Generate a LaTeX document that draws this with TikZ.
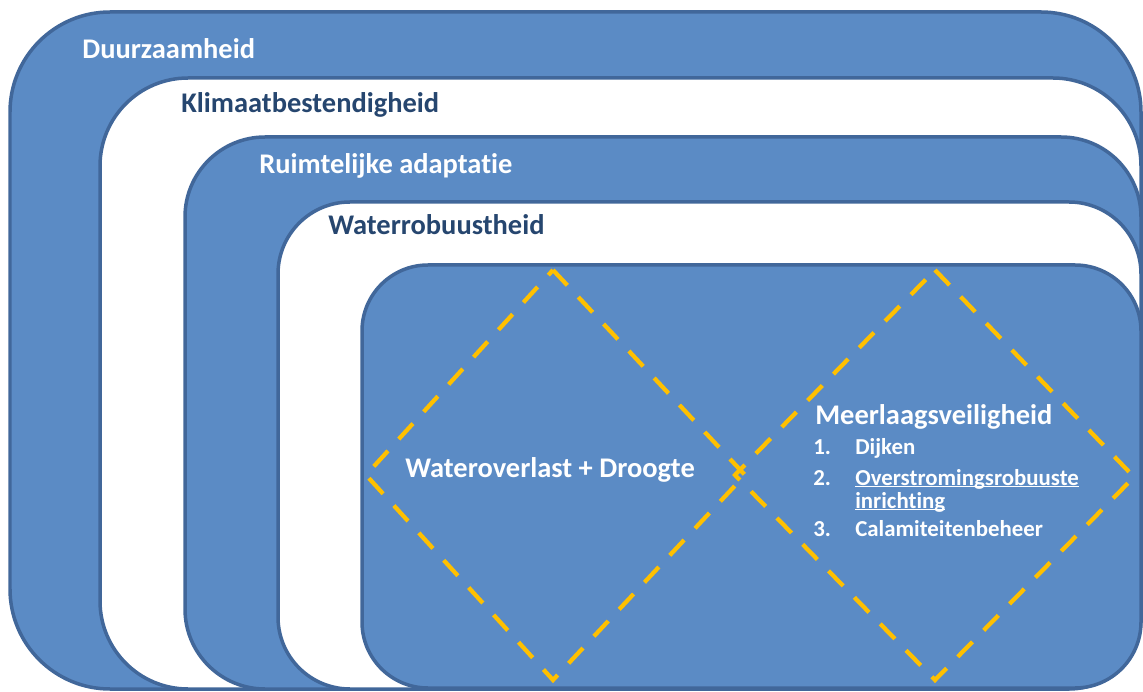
\documentclass[tikz,border=0pt]{standalone}
\usepackage{fontspec}
\setmainfont{Carlito}[Ligatures=NoCommon]
\usepackage{xcolor}
\definecolor{layerblue}{HTML}{5B8BC5}
\definecolor{layeredge}{HTML}{41679A}
\definecolor{labelnavy}{HTML}{26466F}
\definecolor{dashgold}{HTML}{FFC000}
\newcommand\linkline[1]{\setbox0\hbox{#1}\rlap{\rule[-0.05cm]{\wd0}{0.03cm}}\box0}

\begin{document}
\begin{tikzpicture}[x=0.02cm,y=-0.02cm,
    layer/.style={draw=layeredge,line width=0.07cm},
    bluelayer/.style={layer,fill=layerblue},
    whitelayer/.style={layer,fill=white},
    zone/.style={draw=dashgold,line width=0.085cm,dash pattern=on 0.42cm off 0.32cm},
    tag/.style={anchor=base west,inner sep=0pt,font=\fontsize{16.2}{19}\selectfont\bfseries},
    item/.style={anchor=base west,inner sep=0pt,text=white,font=\fontsize{13}{15}\selectfont\bfseries}]
    \useasboundingbox (0,0) rectangle (1143,692);
    % nested layers, outside in
    \draw[bluelayer,rounded corners=2cm] (10,12) rectangle (1141,689);
    \draw[whitelayer,rounded corners=1.76cm] (100,78) rectangle (1141,689);
    \draw[bluelayer,rounded corners=1.6cm] (185,137) rectangle (1141,689);
    \draw[whitelayer,rounded corners=1.44cm] (278,202) rectangle (1141,689);
    \draw[bluelayer,rounded corners=1.32cm] (362,265) rectangle (1141,688);
    % the two dashed fields
    \draw[zone] (553,270) -- (745,475) -- (553,680) -- (366,475) -- cycle;
    \draw[zone] (935,270) -- (1134,477) -- (935,680) -- (735,475) -- cycle;
    % layer names
    \node[tag,text=white] (duurz) at (82,59) {Duurzaamheid};
    \node[tag,text=labelnavy] (klimaat) at (181,113) {Klimaatbestendigheid};
    \node[tag,text=white] (ruimte) at (259,174) {Ruimtelijke adaptatie};
    \node[tag,text=labelnavy] (robuust) at (328,235) {Waterrobuustheid};
    \node[tag,text=white] (overlast) at (405,478) {Wateroverlast + Droogte};
    \node[tag,text=white] (meerlaags) at (815,425) {Meerlaagsveiligheid};
    % list of layers
    \node[item] (num1) at (813,455) {1.};
    \node[item] (dijken) at (855,455) {Dijken};
    \node[item] (num2) at (813,485) {2.};
    \node[item] (inricht) at (855,485) {\linkline{Overstromingsrobuuste}};
    \node[item] (inricht2) at (855,508) {\linkline{inrichting}};
    \node[item] (num3) at (813,537) {3.};
    \node[item] (calamit) at (855,537) {Calamiteitenbeheer};
\end{tikzpicture}
\end{document}
